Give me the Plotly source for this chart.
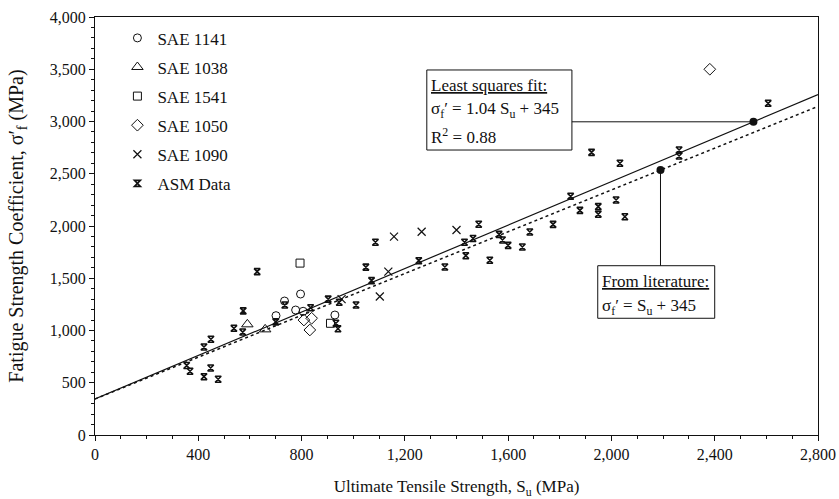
import plotly.graph_objects as go

# ---- data ----
sae1141_x = [701, 734, 777, 796, 806, 929]
sae1141_y = [1142, 1282, 1196, 1349, 1184, 1148]
sae1038_x = [590, 659]
sae1038_y = [1059, 1011]
sae1541_x = [794, 912]
sae1541_y = [1645, 1069]
sae1050_x = [809, 832, 839, 2381]
sae1050_y = [1100, 1005, 1117, 3500]
sae1090_x = [955, 1103, 1136, 1158, 1265, 1400]
sae1090_y = [1300, 1325, 1563, 1898, 1945, 1962]
asm_x = [355, 368, 422, 448, 477, 422, 449, 538, 574, 572, 628, 700, 735, 835,
         903, 946, 933, 941, 1011, 1049, 1071, 1086, 1254, 1355, 1431, 1464,
         1436, 1486, 1529, 1565, 1578, 1600, 1655, 1684, 1774, 1842, 1878,
         1949, 1949, 2018, 2052, 1923, 2033, 2262, 2262, 2607]
asm_y = [665, 610, 558, 641, 533, 842, 916, 1021, 1188, 985, 1563, 1083, 1244, 1218,
         1300, 1270, 1069, 1017, 1244, 1606, 1477, 1844, 1668, 1608, 1844, 1880,
         1716, 2017, 1672, 1920, 1866, 1815, 1799, 1943, 2016, 2284, 2150,
         2185, 2113, 2249, 2089, 2705, 2600, 2727, 2670, 3174]

fit_slope, fit_icpt = 1.04, 345
lit_slope, lit_icpt = 1.0, 345
line_x = [0, 2800]
fit_dot_x = 2550
lit_dot_x = 2190

x_ticks = [0, 400, 800, 1200, 1600, 2000, 2400, 2800]
y_ticks = [0, 500, 1000, 1500, 2000, 2500, 3000, 3500, 4000]

FONT = "Liberation Serif"
BLK = "#111"

fig = go.Figure()

def series(name, xs, ys, symbol, size, lw=1.0):
    fig.add_trace(go.Scatter(
        x=xs, y=ys, mode="markers", name=name, legendgroup=name,
        marker=dict(symbol=symbol, size=size, color=BLK,
                    line=dict(color=BLK, width=lw)),
    ))

series("SAE 1141", sae1141_x, sae1141_y, "circle-open", 8)
series("SAE 1038", sae1038_x, sae1038_y, "triangle-up-open", 10)
series("SAE 1541", sae1541_x, sae1541_y, "square-open", 8)
series("SAE 1050", sae1050_x, sae1050_y, "diamond-open", 9)
series("SAE 1090", sae1090_x, sae1090_y, "x-thin", 8, 1.2)
series("ASM Data", asm_x, asm_y, "hourglass-open", 6, 1.6)

fit_y = [fit_slope * v + fit_icpt for v in line_x]
lit_y = [lit_slope * v + lit_icpt for v in line_x]
fig.add_trace(go.Scatter(x=line_x, y=fit_y, mode="lines", showlegend=False,
                         line=dict(color=BLK, width=1.2)))
fig.add_trace(go.Scatter(x=line_x, y=lit_y, mode="lines", showlegend=False,
                         line=dict(color=BLK, width=1.5, dash="3px,3px")))

fit_dot_y = fit_slope * fit_dot_x + fit_icpt
lit_dot_y = lit_slope * lit_dot_x + lit_icpt
fig.add_trace(go.Scatter(x=[fit_dot_x, lit_dot_x], y=[fit_dot_y, lit_dot_y],
                         mode="markers", showlegend=False,
                         marker=dict(symbol="circle", size=8, color=BLK)))

# annotation boxes
box1 = dict(x0=1285, x1=1847, y0=2727, y1=3493)
box2 = dict(x0=1947, x1=2400, y0=1117, y1=1620)
shapes = [
    dict(type="rect", xref="x", yref="y", **box1, line=dict(color=BLK, width=1), fillcolor="white", layer="above"),
    dict(type="rect", xref="x", yref="y", **box2, line=dict(color=BLK, width=1), fillcolor="white", layer="above"),
    dict(type="line", xref="x", yref="y", x0=box1["x1"], x1=fit_dot_x, y0=fit_dot_y, y1=fit_dot_y,
         line=dict(color=BLK, width=1)),
    dict(type="line", xref="x", yref="y", x0=lit_dot_x, x1=lit_dot_x, y0=box2["y1"], y1=lit_dot_y,
         line=dict(color=BLK, width=1)),
]

tf = dict(family=FONT, size=17, color=BLK)
annotations = [
    dict(x=box1["x0"] + 10, y=3349, text="<u>Least squares fit:</u>"),
    dict(x=box1["x0"] + 10, y=3110, text="σ<sub>f</sub>′ = 1.04 S<sub>u</sub> + 345"),
    dict(x=box1["x0"] + 10, y=2861, text="R<sup>2</sup> = 0.88"),
    dict(x=box2["x0"] + 10, y=1467, text="<u>From literature:</u>"),
    dict(x=box2["x0"] + 10, y=1228, text="σ<sub>f</sub>′ = S<sub>u</sub> + 345"),
]
for a in annotations:
    a.update(xref="x", yref="y", xanchor="left", yanchor="middle", showarrow=False, font=tf)

axis_common = dict(
    showline=True, linecolor=BLK, linewidth=1, mirror=True, automargin=False,
    ticks="outside", ticklen=5, tickcolor=BLK, showgrid=False, zeroline=False,
    tickfont=dict(family=FONT, size=16, color=BLK), tickformat=",d",
    ticklabeloverflow="allow",
)

fig.update_layout(
    width=839, height=499,
    margin=dict(l=95, r=21, t=17, b=64),
    paper_bgcolor="white", plot_bgcolor="white",
    font=dict(family=FONT, color=BLK),
    shapes=shapes, annotations=annotations,
    legend=dict(x=0.031, y=0.992, xanchor="left", yanchor="top",
                font=dict(family=FONT, size=17, color=BLK),
                bgcolor="rgba(0,0,0,0)", tracegroupgap=4, traceorder="grouped"),
    xaxis=dict(range=[0, 2800], tickvals=x_ticks,
               minor=dict(dtick=100, ticks="outside", ticklen=3, tickcolor=BLK),
               title=dict(text="Ultimate Tensile Strength, S<sub>u</sub> (MPa)",
                          font=dict(family=FONT, size=17, color=BLK), standoff=25),
               **axis_common),
    yaxis=dict(range=[0, 4000], tickvals=y_ticks,
               minor=dict(dtick=100, ticks="outside", ticklen=3, tickcolor=BLK),
               title=dict(text="Fatigue Strength Coefficient, σ′<sub>f</sub> (MPa)",
                          font=dict(family=FONT, size=20, color=BLK), standoff=20),
               **axis_common),
)

fig.write_html(
    "out.html",
    config={"displayModeBar": False},
    post_script="document.body.style.margin='0';document.body.style.overflow='hidden';",
)
